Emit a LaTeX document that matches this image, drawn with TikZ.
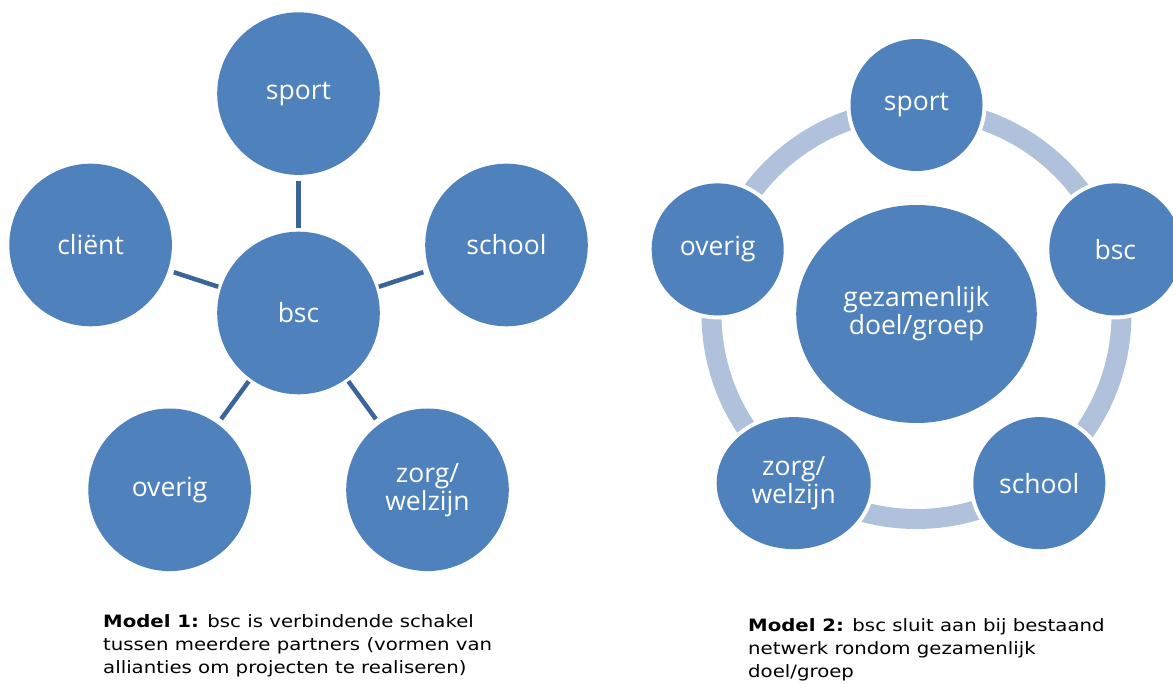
\documentclass[tikz,border=0pt]{standalone}
\usepackage{fontspec}
\usetikzlibrary{shapes.geometric}
\newfontfamily\circfont{Open Sans}
\newfontfamily\capfont[FakeStretch=1.16]{DejaVu Sans}
\definecolor{nodeblue}{HTML}{4F81BD}
\definecolor{connblue}{HTML}{3B659A}
\definecolor{ringblue}{HTML}{B0C1DC}
\tikzset{
  bubble/.style={circle, fill=nodeblue, inner sep=0pt, text=white, align=center,
    font=\circfont\fontsize{26.5}{28}\selectfont},
  bigbubble/.style={bubble, minimum size=162.6pt},
  smallbubble/.style={bubble, minimum size=132pt, preaction={draw=white, line width=8pt}},
  ovalbubble/.style={bubble, ellipse, preaction={draw=white, line width=8pt}},
  conn/.style={draw=connblue, line width=4.5pt, shorten <=3pt, shorten >=6pt},
  ringline/.style={draw=ringblue, line width=20pt},
  caption/.style={anchor=north west, inner sep=0pt, align=left,
    font=\capfont\fontsize{17}{23}\selectfont}
}
\begin{document}
\begin{tikzpicture}[x=1pt,y=-1pt]
\useasboundingbox (0,0) rectangle (1173,684);
% ---- Model 1 ----
\node[bigbubble] (bsc1) at (298.5,313) {bsc};
\node[bigbubble] (sport1) at (298.5,93.6) {sport};
\node[bigbubble] (client1) at (90.6,245) {cliënt};
\node[bigbubble] (school1) at (506.5,245) {school};
\node[bigbubble] (overig1) at (169.6,489.8) {overig};
\node[bigbubble] (zorg1) at (427.5,489.8) {zorg/\\welzijn};
\foreach \t in {sport1,client1,school1,overig1,zorg1}
  \draw[conn] (bsc1) -- (\t);
% ---- Model 2 ----
\coordinate (c2) at (916.5,314);
\draw[ringline] (c2) circle[radius=205];
\node[bubble, ellipse, minimum width=240.6pt, minimum height=218pt] (goal2) at (c2) {gezamenlijk\\doel/groep};
\node[smallbubble] (sport2) at (916.5,105) {sport};
\node[smallbubble] (bsc2) at (1115.3,249.4) {bsc};
\node[smallbubble] (school2) at (1039.3,483.1) {school};
\node[ovalbubble, minimum width=154pt, minimum height=132pt] (zorg2) at (793.7,483.1) {zorg/\\welzijn};
\node[smallbubble] (overig2) at (717.7,249.4) {overig};
% ---- captions ----
\node[caption] (cap1) at (103,614.8) {\textbf{Model 1:} bsc is verbindende schakel\\tussen meerdere partners (vormen van\\allianties om projecten te realiseren)};
\node[caption] (cap2) at (748,618) {\textbf{Model 2:} bsc sluit aan bij bestaand\\netwerk rondom gezamenlijk\\doel/groep};
\end{tikzpicture}
\end{document}
